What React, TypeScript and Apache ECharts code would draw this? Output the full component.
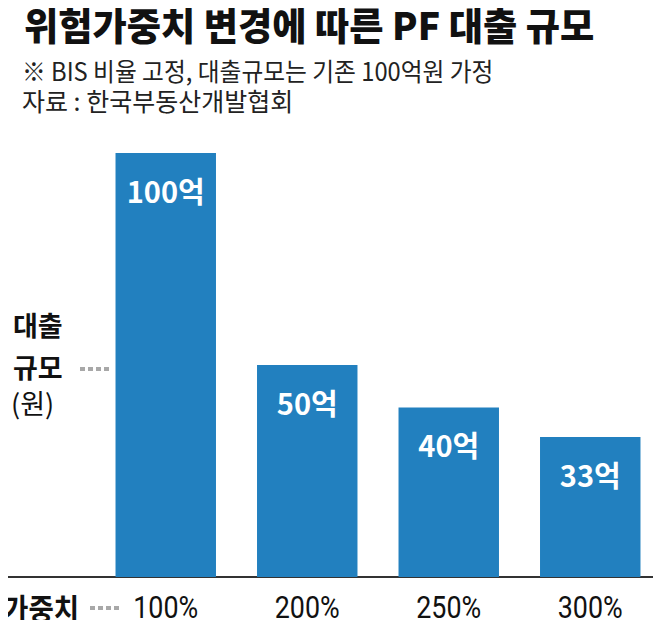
import React, { useEffect, useRef } from "react";
import * as echarts from "echarts";

const categories = ["100%", "200%", "250%", "300%"];
const loanValues = [100, 50, 40, 33];
const titleText = "위험가중치 변경에 따른 PF 대출 규모";
const noteText = "※ BIS 비율 고정, 대출규모는 기존 100억원 가정";
const sourceText = "자료 : 한국부동산개발협회";

const KR = '"Noto Sans CJK KR", "Noto Sans", sans-serif';
const NUM = 'Roboto, "Noto Sans", sans-serif';

function txt(text: string, x: number, y: number, font: string, scaleX = 1, fill = "#111", align = "left") {
  return {
    type: "text",
    x,
    y,
    scaleX,
    style: { text, font, fill, textAlign: align, textVerticalAlign: "middle", verticalAlign: "middle" },
  };
}

export default function App() {
  const ref = useRef<HTMLDivElement>(null);
  useEffect(() => {
    if (!ref.current) return;
    const chart = echarts.init(ref.current, null, { renderer: "svg" });
    chart.setOption({
      animation: false,
      grid: { left: 95, right: 0, top: 153, bottom: 51 },
      xAxis: {
        type: "category",
        data: categories,
        axisLine: { show: false },
        axisTick: { show: false },
        axisLabel: { show: false },
      },
      yAxis: {
        type: "value",
        min: 0,
        max: 100,
        show: false,
        splitLine: { show: false },
      },
      series: [
        {
          type: "bar",
          data: loanValues,
          barWidth: "71%",
          itemStyle: { color: "#2280bf" },
          label: {
            show: true,
            position: "insideTop",
            distance: 22,
            color: "#fff",
            fontWeight: "bold",
            fontSize: 29,
            fontFamily: KR,
            formatter: (p: any) => `${p.value}억`,
          },
        },
      ],
    });

    const catLabels = categories.map((c) => {
      const px = chart.convertToPixel({ xAxisIndex: 0 }, c) as number;
      return txt(c, px, 607, `400 32px ${NUM}`, 0.84, "#111", "center");
    });

    chart.setOption({
      graphic: [
        { type: "rect", shape: { x: 0, y: 0, width: 7, height: 116 }, style: { fill: "#d4d4d4" } },
        txt(titleText, 24, 23, `900 38px ${KR}`, 0.98),
        txt(noteText, 22, 70, `400 25px ${KR}`, 0.95, "#222"),
        txt(sourceText, 22, 100, `400 25px ${KR}`, 1.0, "#222"),
        txt("대출", 13, 324, `700 27px ${KR}`),
        txt("규모", 13, 366, `700 27px ${KR}`),
        txt("(원)", 11, 402, `400 27px ${KR}`),
        {
          type: "line", shape: { x1: 80, y1: 369, x2: 111, y2: 369 },
          style: { stroke: "#a8a8a8", lineWidth: 4, lineDash: [5, 3] },
        },
        {
          type: "line", shape: { x1: 0, y1: 577, x2: 661, y2: 577 },
          style: { stroke: "#333", lineWidth: 2 },
        },
        txt("가중치", 3, 607, `700 30px ${KR}`, 0.92),
        {
          type: "line", shape: { x1: 90, y1: 608, x2: 119, y2: 608 },
          style: { stroke: "#a8a8a8", lineWidth: 4, lineDash: [5, 3] },
        },
        ...catLabels,
      ],
    });
    return () => chart.dispose();
  }, []);
  return <div ref={ref} style={{ width: 661, height: 628, margin: -8 }} />;
}
